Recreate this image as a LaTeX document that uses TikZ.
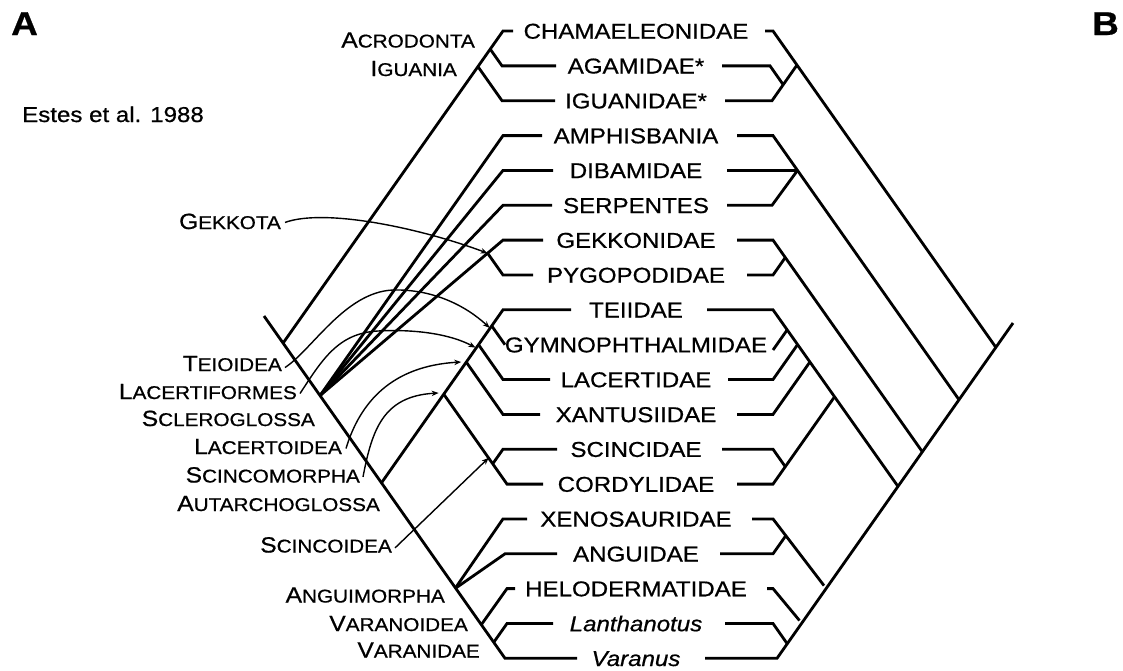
\documentclass[tikz,border=0pt]{standalone}
\usepackage{fontspec}
\setmainfont{Liberation Sans}[FakeStretch=1.12,FakeBold=0.7]
\usetikzlibrary{arrows.meta}
\newcommand{\tx}{\fontsize{21.5}{24}\selectfont}
\newcommand{\scx}[2]{{\fontsize{22}{24}\selectfont #1\fontsize{18.5}{20}\selectfont #2}}
\begin{document}
\begin{tikzpicture}[x=1pt,y=-1pt,
  tree/.style={line width=2.8pt, line join=miter, line cap=butt},
  pointer/.style={line width=1.4pt, -{Stealth[length=7pt,width=5.5pt]}},
  taxon/.style={anchor=base, inner sep=0pt, font=\tx},
  clade/.style={anchor=base east, inner sep=0pt},
]
\useasboundingbox (0,0) rectangle (1123,670);

% ---------------- panel letters and citation
\node[anchor=base west, inner sep=0pt, font=\fontsize{33}{36}\selectfont\bfseries] (pA) at (11,35) {A};
\node[anchor=base west, inner sep=0pt, font=\fontsize{33}{36}\selectfont\bfseries] (pB) at (1092,35) {B};
\node[anchor=base west, inner sep=0pt, font=\tx] (cit) at (22,122) {Estes et al. 1988};

% ---------------- taxon labels
\node[taxon] (t0) at (636,38.7) {CHAMAELEONIDAE};
\node[taxon] (t1) at (636,73.5) {AGAMIDAE*};
\node[taxon] (t2) at (636,108.4) {IGUANIDAE*};
\node[taxon] (t3) at (636,143.3) {AMPHISBANIA};
\node[taxon] (t4) at (636,178.1) {DIBAMIDAE};
\node[taxon] (t5) at (636,213) {SERPENTES};
\node[taxon] (t6) at (636,247.8) {GEKKONIDAE};
\node[taxon] (t7) at (636,282.7) {PYGOPODIDAE};
\node[taxon] (t8) at (636,317.5) {TEIIDAE};
\node[taxon] (t9) at (636,352.4) {GYMNOPHTHALMIDAE};
\node[taxon] (t10) at (636,387.2) {LACERTIDAE};
\node[taxon] (t11) at (636,422.1) {XANTUSIIDAE};
\node[taxon] (t12) at (636,456.9) {SCINCIDAE};
\node[taxon] (t13) at (636,491.8) {CORDYLIDAE};
\node[taxon] (t14) at (636,526.6) {XENOSAURIDAE};
\node[taxon] (t15) at (636,561.5) {ANGUIDAE};
\node[taxon] (t16) at (636,596.3) {HELODERMATIDAE};
\node[taxon] (t17) at (636,631.2) {\itshape Lanthanotus};
\node[taxon] (t18) at (636,666) {\itshape Varanus};

% ---------------- clade labels (tree A)
\node[clade] (lAcr) at (475,47.5) {\scx{A}{CRODONTA}};
\node[clade] (lIgu) at (457,76) {\scx{I}{GUANIA}};
\node[clade] (lGek) at (281,229) {\scx{G}{EKKOTA}};
\node[clade] (lTei) at (282,371) {\scx{T}{EIOIDEA}};
\node[clade] (lLcf) at (297,399) {\scx{L}{ACERTIFORMES}};
\node[clade] (lScl) at (315,426) {\scx{S}{CLEROGLOSSA}};
\node[clade] (lLco) at (342,454) {\scx{L}{ACERTOIDEA}};
\node[clade] (lScm) at (360,482.5) {\scx{S}{CINCOMORPHA}};
\node[clade] (lAut) at (380,511) {\scx{A}{UTARCHOGLOSSA}};
\node[clade] (lSci) at (392,552.5) {\scx{S}{CINCOIDEA}};
\node[clade] (lAng) at (445,602.5) {\scx{A}{NGUIMORPHA}};
\node[clade] (lVar) at (468,631) {\scx{V}{ARANOIDEA}};
\node[clade] (lVad) at (480,657.5) {\scx{V}{ARANIDAE}};

% ---------------- tree A coordinates
\coordinate (aRoot) at (264,316);
\coordinate (aIgJ) at (283.2,342.9);
\coordinate (aAcr) at (490.2,49.1);
\coordinate (aIgu) at (478,66.7);
\coordinate (aChamC) at (503,31);   \coordinate (aChamT) at (513,31);
\coordinate (aAgamC) at (502,65.85); \coordinate (aAgamT) at (556,65.85);
\coordinate (aIguaC) at (502,100.7); \coordinate (aIguaT) at (555,100.7);
\coordinate (aScl) at (320,395.6);
\coordinate (aAmphC) at (503,135.6); \coordinate (aAmphT) at (542,135.6);
\coordinate (aDibC) at (503,170.4);  \coordinate (aDibT) at (553,170.4);
\coordinate (aSerpC) at (503,205.3); \coordinate (aSerpT) at (552,205.3);
\coordinate (aGekN) at (487.6,253.2);
\coordinate (aGekC) at (503,240.1);  \coordinate (aGekT) at (543,240.1);
\coordinate (aPygC) at (503,275);    \coordinate (aPygT) at (533,275);
\coordinate (aAut) at (381.3,483.1);
\coordinate (aTeiC) at (503,309.8);  \coordinate (aTeiT) at (571,309.8);
\coordinate (aTeiN) at (491.7,325.9);
\coordinate (aGymE) at (505,344.7);
\coordinate (aLacN) at (478.5,344.6);
\coordinate (aLacC) at (503,379.5);  \coordinate (aLacT) at (550,379.5);
\coordinate (aLcoN) at (466.2,362);
\coordinate (aXanC) at (503,414.4);  \coordinate (aXanT) at (540,414.4);
\coordinate (aScmN) at (443.6,394);
\coordinate (aSciN) at (492.7,463.8);
\coordinate (aScC) at (503,449.2);   \coordinate (aScT) at (557,449.2);
\coordinate (aCoC) at (507,484.1);   \coordinate (aCoT) at (543,484.1);
\coordinate (aAngN) at (455,588.6);
\coordinate (aXenC) at (503,518.9);  \coordinate (aXenT) at (527,518.9);
\coordinate (aAnC) at (505,553.8);   \coordinate (aAnT) at (557,553.8);
\coordinate (aVarN) at (481.5,624.4);
\coordinate (aHelC) at (507,588.6);  \coordinate (aHelT) at (515,588.6);
\coordinate (aVdN) at (493.8,642.2);
\coordinate (aLanC) at (507,623.5);  \coordinate (aLanT) at (553,623.5);
\coordinate (aEnd) at (505,658.3);   \coordinate (aVarT) at (577,658.3);

% ---------------- tree A lines
\draw[tree] (aRoot) -- (aEnd) -- (aVarT);
\draw[tree] (aIgJ) -- (aChamC) -- (aChamT);
\draw[tree] (aAcr) -- (aAgamC) -- (aAgamT);
\draw[tree] (aIgu) -- (aIguaC) -- (aIguaT);
\draw[tree] (aScl) -- (aAmphC) -- (aAmphT);
\draw[tree] (aScl) -- (aDibC) -- (aDibT);
\draw[tree] (aScl) -- (aSerpC) -- (aSerpT);
\draw[tree] (aScl) -- (aGekN) -- (aGekC) -- (aGekT);
\draw[tree] (aGekN) -- (aPygC) -- (aPygT);
\draw[tree] (aAut) -- (aTeiC) -- (aTeiT);
\draw[tree] (aTeiN) -- (aGymE);
\draw[tree] (aLacN) -- (aLacC) -- (aLacT);
\draw[tree] (aLcoN) -- (aXanC) -- (aXanT);
\draw[tree] (aScmN) -- (aSciN);
\draw[tree] (aSciN) -- (aScC) -- (aScT);
\draw[tree] (aSciN) -- (aCoC) -- (aCoT);
\draw[tree] (aAngN) -- (aXenC) -- (aXenT);
\draw[tree] (aAngN) -- (aAnC) -- (aAnT);
\draw[tree] (aVarN) -- (aHelC) -- (aHelT);
\draw[tree] (aVdN) -- (aLanC) -- (aLanT);

% ---------------- tree B coordinates
\coordinate (bChamT) at (765,31);  \coordinate (bChamC) at (773,31);  \coordinate (bChamJ) at (995.9,347.4);
\coordinate (bAgT) at (722,65.85); \coordinate (bAgC) at (770,65.85); \coordinate (bAIN) at (783.2,84.7);
\coordinate (bIgT) at (725,100.7); \coordinate (bIgC) at (772,100.7); \coordinate (bAIJ) at (797,65);
\coordinate (bAmT) at (737,135.6); \coordinate (bAmC) at (773,135.6); \coordinate (bAmJ) at (959,399.7);
\coordinate (bDiT) at (727,170.4); \coordinate (bDSJ) at (797.5,170.4);
\coordinate (bSeT) at (727,205.3); \coordinate (bSeC) at (772,205.3);
\coordinate (bGeT) at (737,240.1); \coordinate (bGeC) at (773,240.1); \coordinate (bGeJ) at (922.2,451.6);
\coordinate (bPyT) at (747,275);   \coordinate (bPyC) at (773,275);   \coordinate (bPyJ) at (785.3,257.5);
\coordinate (bTeT) at (707,309.8); \coordinate (bTeC) at (773,309.8); \coordinate (bTeJ) at (897.7,486);
\coordinate (bGyS) at (773,350);   \coordinate (bGyJ) at (786.8,330.4);
\coordinate (bLaT) at (728,379.5); \coordinate (bLaC) at (773,379.5); \coordinate (bLaJ) at (797.5,344.7);
\coordinate (bXaT) at (737,414.4); \coordinate (bXaC) at (773,414.4); \coordinate (bXaJ) at (809.8,362.1);
\coordinate (bScT) at (722,449.2); \coordinate (bScC) at (773,449.2); \coordinate (bSCN) at (785.3,466.7);
\coordinate (bCoT) at (737,484.1); \coordinate (bCoC) at (773,484.1); \coordinate (bSCJ) at (834.4,397);
\coordinate (bXeT) at (752,518.9); \coordinate (bXeC) at (773,518.9); \coordinate (bXeJ) at (824,585.6);
\coordinate (bAnT) at (720,553.8); \coordinate (bAnC) at (773,553.8); \coordinate (bAnJ) at (785.3,536.4);
\coordinate (bHeT) at (767,588.6); \coordinate (bHeC) at (773,588.6); \coordinate (bHeJ) at (799.5,620.5);
\coordinate (bLnT) at (725,623.5); \coordinate (bLnC) at (773,623.5); \coordinate (bLnJ) at (787.2,643.7);
\coordinate (bVaT) at (705,658.3); \coordinate (bVaC) at (777,658.3); \coordinate (bTop) at (1013,323);

% ---------------- tree B lines
\draw[tree] (bVaT) -- (bVaC) -- (bTop);
\draw[tree] (bChamT) -- (bChamC) -- (bChamJ);
\draw[tree] (bAgT) -- (bAgC) -- (bAIN);
\draw[tree] (bIgT) -- (bIgC) -- (bAIJ);
\draw[tree] (bAmT) -- (bAmC) -- (bAmJ);
\draw[tree] (bDiT) -- (bDSJ);
\draw[tree] (bSeT) -- (bSeC) -- (bDSJ);
\draw[tree] (bGeT) -- (bGeC) -- (bGeJ);
\draw[tree] (bPyT) -- (bPyC) -- (bPyJ);
\draw[tree] (bTeT) -- (bTeC) -- (bTeJ);
\draw[tree] (bGyS) -- (bGyJ);
\draw[tree] (bLaT) -- (bLaC) -- (bLaJ);
\draw[tree] (bXaT) -- (bXaC) -- (bXaJ);
\draw[tree] (bScT) -- (bScC) -- (bSCN);
\draw[tree] (bCoT) -- (bCoC) -- (bSCJ);
\draw[tree] (bXeT) -- (bXeC) -- (bXeJ);
\draw[tree] (bAnT) -- (bAnC) -- (bAnJ);
\draw[tree] (bHeT) -- (bHeC) -- (bHeJ);
\draw[tree] (bLnT) -- (bLnC) -- (bLnJ);

% ---------------- pointers from clade names
\draw[pointer] ([shift={(4,1)}]lGek.east) .. controls (325,208) and (420,228) .. (aGekN);
\draw[pointer] ([shift={(3,4)}]lTei.east) .. controls (312,350) and (345,292) .. (393,290)
   .. controls (432,289) and (465,305) .. ([shift={(-2,2)}]aTeiN);
\draw[pointer] ([shift={(3,2)}]lLcf.east) .. controls (322,360) and (338,333) .. (378,331)
   .. controls (415,329) and (450,334) .. ([shift={(-3,3)}]aLacN);
\draw[pointer] ([shift={(4,2)}]lLco.east) .. controls (360,402) and (392,366) .. ([shift={(-5,0)}]aLcoN);
\draw[pointer] ([shift={(3,2)}]lScm.east) .. controls (372,430) and (383,396) .. ([shift={(-5,-1)}]aScmN);
\draw[pointer] ([shift={(3,3)}]lSci.east) -- ([shift={(-4,-6)}]aSciN);
\end{tikzpicture}
\end{document}
